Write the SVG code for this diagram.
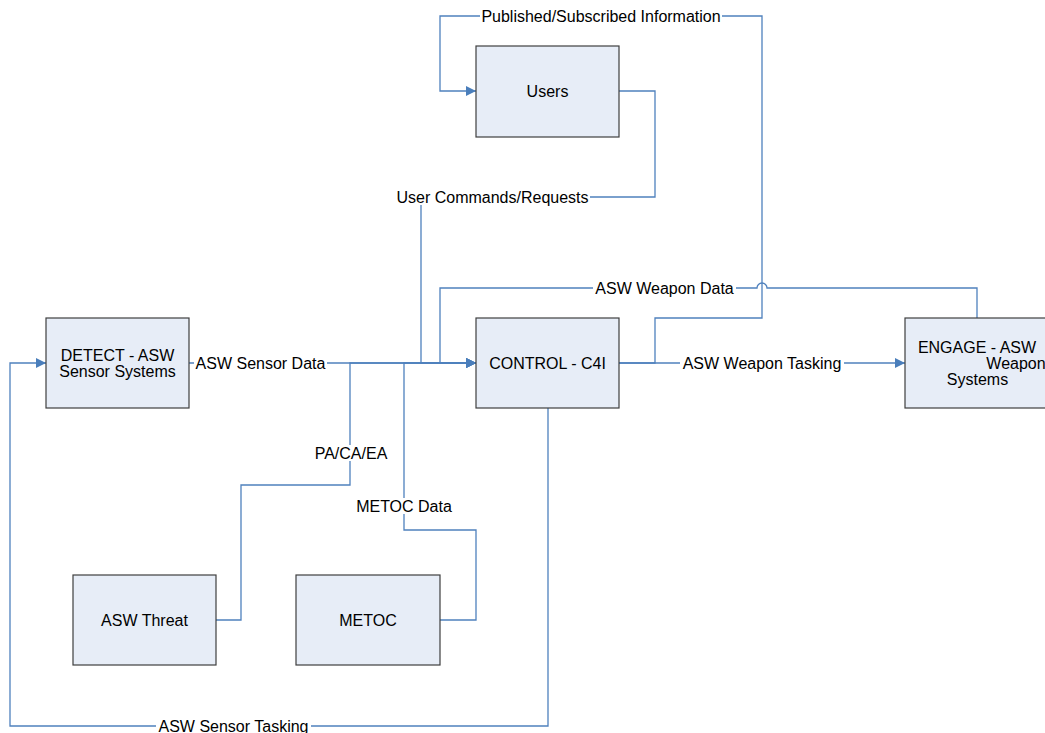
<svg xmlns="http://www.w3.org/2000/svg" width="1045" height="733" viewBox="0 0 1045 733">
<style>
.box{fill:#e7edf7;stroke:#3f3f3f;stroke-width:1.2}
.t{font-family:"Liberation Sans",Arial,sans-serif;font-size:16px;fill:#000;text-anchor:middle}
.c{fill:none;stroke:#4f81bd;stroke-width:1.3}
.bg{fill:#fff}
</style>
<defs>
<marker id="ah" viewBox="0 0 10 10" refX="10" refY="5" markerWidth="12" markerHeight="10" markerUnits="userSpaceOnUse" orient="auto">
<path d="M0,0 L10,5 L0,10 z" fill="#4a7ebb"/>
</marker>
</defs>
<rect width="1045" height="733" fill="#fff"/>
<g id="connectors">
<path class="c" d="M619,363 H655 V318 H762 V16 H440 V91 H476" marker-end="url(#ah)"/>
<path class="c" d="M619,91 H655 V197 H421 V363 H476" marker-end="url(#ah)"/>
<path class="c" d="M977,318 V288 H767 A5,5 0 0 0 757,288 H440 V363 H476" marker-end="url(#ah)"/>
<path class="c" d="M189,363 H476" marker-end="url(#ah)"/>
<path class="c" d="M216,620 H241 V485 H350 V363 H476" marker-end="url(#ah)"/>
<path class="c" d="M440,620 H476 V530 H404 V363 H476" marker-end="url(#ah)"/>
<path class="c" d="M619,363 H905" marker-end="url(#ah)"/>
<path class="c" d="M548,408 V726 H10 V363 H46" marker-end="url(#ah)"/>
<rect class="bg" x="480" y="8" width="242" height="16"/>
<text class="t" x="601" y="21.5">Published/Subscribed Information</text>
<rect class="bg" x="395" y="189" width="195" height="16"/>
<text class="t" x="492.5" y="202.5">User Commands/Requests</text>
<rect class="bg" x="593" y="280" width="143" height="16"/>
<text class="t" x="664.5" y="293.5">ASW Weapon Data</text>
<rect class="bg" x="194" y="355" width="133" height="16"/>
<text class="t" x="260.5" y="368.5">ASW Sensor Data</text>
<rect class="bg" x="680" y="355" width="164" height="16"/>
<text class="t" x="762" y="368.5">ASW Weapon Tasking</text>
<rect class="bg" x="312" y="445" width="78" height="16"/>
<text class="t" x="351" y="458.5">PA/CA/EA</text>
<rect class="bg" x="354" y="498" width="100" height="16"/>
<text class="t" x="404" y="511.5">METOC Data</text>
<rect class="bg" x="156" y="718" width="155" height="15"/>
<text class="t" x="233.5" y="731.5">ASW Sensor Tasking</text>
</g>
<g id="users">
<rect class="box" x="476" y="46" width="143" height="91"/>
<text class="t" x="547.5" y="96.5">Users</text>
</g>
<g id="detect">
<rect class="box" x="46" y="318" width="143" height="90"/>
<text class="t" x="117.5" y="360.5">DETECT - ASW</text>
<text class="t" x="117.5" y="376.5">Sensor Systems</text>
</g>
<g id="control">
<rect class="box" x="476" y="318" width="143" height="90"/>
<text class="t" x="547.5" y="368.5">CONTROL - C4I</text>
</g>
<g id="engage">
<rect class="box" x="905" y="318" width="143" height="90"/>
<text class="t" x="977" y="352.5">ENGAGE - ASW</text>
<text class="t" x="1016" y="368.5">Weapon</text>
<text class="t" x="977.5" y="384.5">Systems</text>
</g>
<g id="threat">
<rect class="box" x="73" y="575" width="143" height="90"/>
<text class="t" x="144.5" y="625.5">ASW Threat</text>
</g>
<g id="metoc">
<rect class="box" x="296" y="575" width="144" height="90"/>
<text class="t" x="368" y="625.5">METOC</text>
</g>
</svg>
